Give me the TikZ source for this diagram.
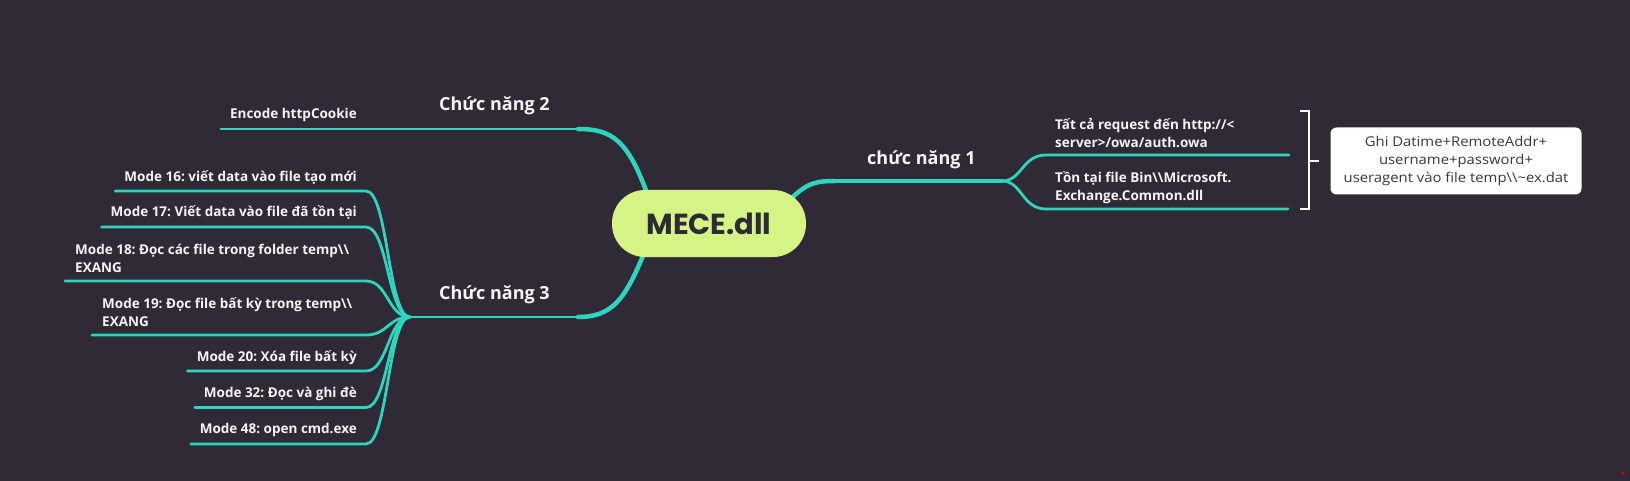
\documentclass[tikz,border=0pt]{standalone}
\usepackage{fontspec}
\setmainfont{Open Sans}
\newfontfamily\boxfont{Open Sans}[FakeStretch=1.1]
\newfontfamily\rootfont{Poppins}
\usetikzlibrary{calc}
\frenchspacing
\definecolor{bgc}{HTML}{2F2A35}
\definecolor{linec}{HTML}{2DD4BF}
\definecolor{rootc}{HTML}{D4F585}
\definecolor{txtc}{HTML}{F4F4F4}
\definecolor{boxtxt}{HTML}{383838}
\pgfdeclarelayer{back}
\pgfdeclarelayer{lines}
\pgfsetlayers{back,lines,main}
\begin{document}
\begin{tikzpicture}[x=1pt,y=-1pt,
  branch/.style={draw=linec,line width=4.5pt,line cap=round},
  mid/.style={draw=linec,line width=3.5pt,line cap=round},
  sub/.style={draw=linec,line width=2.8pt,line cap=round},
  lbl/.style={text=txtc,font=\bfseries\fontsize{18}{20}\selectfont,inner sep=0pt},
  item/.style={text=txtc,font=\bfseries\fontsize{13.5}{18.5}\selectfont,inner sep=0pt},
  brk/.style={draw=white,line width=1.5pt}]
\begin{pgfonlayer}{back}
\fill[bgc] (0,0) rectangle (1630,481);
\end{pgfonlayer}
\useasboundingbox (0,0) rectangle (1630,481);

% root
\node[fill=rootc,rounded corners=33pt,minimum width=194pt,minimum height=67pt,inner sep=0pt,
  font=\rootfont\bfseries\fontsize{29}{30}\selectfont,text=bgc] (root) at (709,223.5) {MECE.dll};

% first-level labels
\node[lbl,anchor=base west] (c2) at (439,111) {Chức năng 2};
\node[lbl,anchor=base west] (c3) at (439,299) {Chức năng 3};
\node[lbl,anchor=base west] (c1) at (867,165) {chức năng 1};

% left items
\node[item,anchor=base east] (enc) at (357,118.5) {Encode httpCookie};
\node[item,anchor=base east] (m16) at (357,181.5) {Mode 16: viết data vào file tạo mới};
\node[item,anchor=base east] (m17) at (357,217) {Mode 17: Viết data vào file đã tồn tại};
\node[item,anchor=north west,align=left] (m18) at (75,240) {\rule{0pt}{14pt}Mode 18: Đọc các file trong folder temp\textbackslash\textbackslash\\EXANG};
\node[item,anchor=north west,align=left] (m19) at (102,294) {\rule{0pt}{14pt}Mode 19: Đọc file bất kỳ trong temp\textbackslash\textbackslash\\EXANG};
\node[item,anchor=base east] (m20) at (357,361) {Mode 20: Xóa file bất kỳ};
\node[item,anchor=base east] (m32) at (357,397.5) {Mode 32: Đọc và ghi đè};
\node[item,anchor=base east] (m48) at (357,433) {Mode 48: open cmd.exe};

% right items
\node[item,anchor=north west,align=left] (t1) at (1055,115) {\rule{0pt}{14pt}Tất cả request đến http://<\\server>/owa/auth.owa};
\node[item,anchor=north west,align=left] (t2) at (1055,168) {\rule{0pt}{14pt}Tồn tại file Bin\textbackslash\textbackslash Microsoft.\\Exchange.Common.dll};

% summary box
\node[fill=white,rounded corners=6pt,minimum width=251pt,minimum height=67pt,align=center,
  text=boxtxt,font=\boxfont\fontsize{13.5}{18}\selectfont,inner sep=0pt] (box) at (1456,161)
  {Ghi Datime+RemoteAddr+\\username+password+\\useragent vào file temp\textbackslash\textbackslash\textasciitilde ex.dat};

% coordinates
\coordinate (r1) at ($(root.center)+(76,-18.5)$);
\coordinate (r2) at ($(root.center)+(-61,-27.5)$);
\coordinate (r3) at ($(root.center)+(-64,27.5)$);
\coordinate (f1a) at (835,181);
\coordinate (f1) at (1002,181);
\coordinate (u1) at (1289,155);
\coordinate (u2) at (1288,209);
\coordinate (f2) at (578,129);
\coordinate (f3a) at (578,317);
\coordinate (f3) at (410,317);
\coordinate (e16) at (366,191);
\coordinate (e17) at (366,227);
\coordinate (e18) at (366,281);
\coordinate (e19) at (366,335);
\coordinate (e20) at (366,371);
\coordinate (e32) at (366,407.5);
\coordinate (e48) at (366,444);
\coordinate (brT) at (1300,111);
\coordinate (brB) at (1300,209);
\coordinate (brM) at (1309,161);

\begin{pgfonlayer}{lines}
% branch 2
\draw[branch] (r2) .. controls (628,140) and (612,129) .. (f2);
\draw[sub] (f2) -- ($(enc.west|-f2)+(-9,0)$);
% branch 3
\draw[branch] (r3) .. controls (625,300) and (612,317) .. (f3a);
\draw[sub] (f3a) -- (f3);
\draw[sub] ($(m16.west|-e16)+(-9,0)$) -- (e16) .. controls (388,191) and (388,317) .. (f3);
\draw[sub] ($(m17.west|-e17)+(-9,0)$) -- (e17) .. controls (388,227) and (388,317) .. (f3);
\draw[sub] ($(m18.west|-e18)+(-10,0)$) -- (e18) .. controls (388,281) and (388,317) .. (f3);
\draw[sub] ($(m19.west|-e19)+(-10,0)$) -- (e19) .. controls (388,335) and (388,317) .. (f3);
\draw[sub] ($(m20.west|-e20)+(-9,0)$) -- (e20) .. controls (388,371) and (388,317) .. (f3);
\draw[sub] ($(m32.west|-e32)+(-9,0)$) -- (e32) .. controls (388,407.5) and (388,317) .. (f3);
\draw[sub] ($(m48.west|-e48)+(-9,0)$) -- (e48) .. controls (388,444) and (388,317) .. (f3);
% branch 1
\draw[branch] (r1) .. controls (805,183) and (815,181) .. (f1a);
\draw[mid] (f1a) -- (f1);
\draw[sub] (f1) .. controls (1022,181) and (1022,155) .. (1046,155) -- (u1);
\draw[sub] (f1) .. controls (1022,181) and (1022,209) .. (1046,209) -- (u2);
\end{pgfonlayer}

% bracket
\draw[brk] (brT) -- (brT -| brM) -- (brB -| brM) -- (brB);
\draw[brk] (brM) -- ($(box.west)+(-11,0)$);

% tiny red mark
\fill[red!85!black] (1623,473) circle (1.8);
\end{tikzpicture}
\end{document}
